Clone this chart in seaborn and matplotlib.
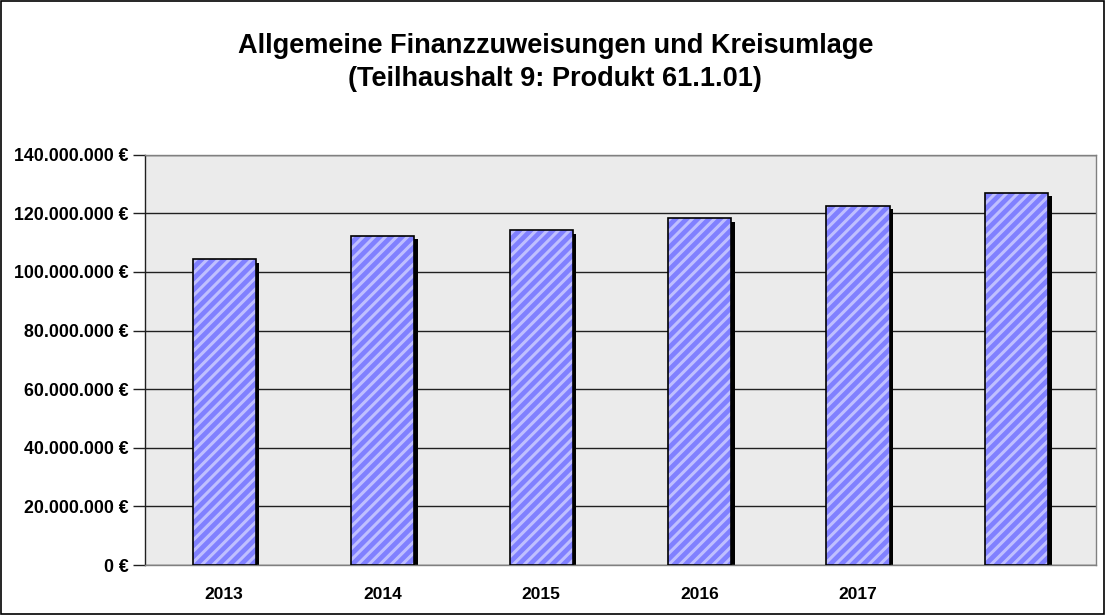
import matplotlib
matplotlib.use("Agg")
import matplotlib.pyplot as plt
import matplotlib.transforms as mtransforms
from matplotlib.patches import Rectangle
from matplotlib.ticker import FuncFormatter, MultipleLocator
import seaborn as sns
import pandas as pd

# Data
categories = ["2013", "2014", "2015", "2016", "2017", "2018"]
tick_labels = ["2013", "2014", "2015", "2016", "2017", ""]
values = [104400000, 112300000, 114300000, 118400000, 122600000, 127100000]

title = "Allgemeine Finanzzuweisungen und Kreisumlage\n(Teilhaushalt 9: Produkt 61.1.01)"

sns.set_theme(style="white")
plt.rcParams["font.family"] = ["Liberation Sans", "DejaVu Sans"]
plt.rcParams["hatch.linewidth"] = 2.2
for k in ["text.color", "xtick.color", "ytick.color", "axes.labelcolor"]:
    plt.rcParams[k] = "black"

df = pd.DataFrame({"Jahr": categories, "Wert": values})

fig = plt.figure(figsize=(11.05, 6.15), dpi=100)
ax = fig.add_axes([0.1312, 0.0813, 0.8606, 0.667])
ax.set_facecolor("#ebebeb")

sns.barplot(data=df, x="Jahr", y="Wert", order=categories, color="#8080ff",
            width=0.40, saturation=1, ax=ax, zorder=3)

shadow_tf = ax.transData + mtransforms.ScaledTranslation(3.5 / 100, -3.5 / 100, fig.dpi_scale_trans)
for p in list(ax.patches):
    p.set_hatch("///")
    p.set_edgecolor("#bfbfff")
    p.set_linewidth(0)
    sh = Rectangle((p.get_x(), p.get_y()), p.get_width(), p.get_height(),
                   facecolor="black", edgecolor="none", zorder=2.5, transform=shadow_tf)
    ax.add_patch(sh)
    r = Rectangle((p.get_x(), p.get_y()), p.get_width(), p.get_height(),
                  fill=False, edgecolor="black", linewidth=1.2, zorder=4)
    ax.add_patch(r)

ax.set_ylim(0, 140000000)
ax.set_xlim(-0.5, len(categories) - 0.5)
ax.yaxis.set_major_locator(MultipleLocator(20000000))
ax.yaxis.set_major_formatter(FuncFormatter(lambda v, pos: f"{int(round(v)):,}".replace(",", ".") + " €"))
ax.grid(axis="y", color="#202020", linewidth=1.0, zorder=1)
ax.set_axisbelow(True)

ax.set_xticks(range(len(categories)))
ax.set_xticklabels(tick_labels)
ax.set_xlabel("")
ax.set_ylabel("")
ax.tick_params(axis="x", length=0, pad=16, labelsize=12.5)
ax.tick_params(axis="y", length=8.5, width=1, color="#202020", direction="out", pad=3.5,
               labelsize=12.8, left=True)
for lbl in ax.get_xticklabels() + ax.get_yticklabels():
    lbl.set_fontweight("bold")

for side in ["top", "right", "bottom"]:
    ax.spines[side].set_color("#808080")
    ax.spines[side].set_linewidth(1)
ax.spines["left"].set_color("#202020")
ax.spines["left"].set_linewidth(1)

fig.text(0.5025, 0.898, title, ha="center", va="center", fontsize=19.5, fontweight="bold",
         linespacing=1.34)

fig.patches.append(Rectangle((0.0008, 0.0012), 0.9984, 0.9976, transform=fig.transFigure,
                             fill=False, edgecolor="black", linewidth=1.2))

fig.savefig("out.png", dpi=100)
